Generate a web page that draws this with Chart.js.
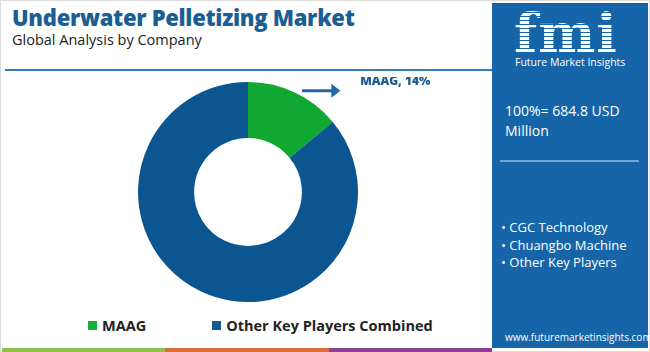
<!DOCTYPE html>
<html>
<head>
<meta charset="utf-8">
<script src="https://cdn.jsdelivr.net/npm/chart.js@4"></script>
<style>
  html, body { margin: 0; padding: 0; }
  body { width: 650px; height: 352px; position: relative; overflow: hidden; background: #fff; font-family: "Open Sans", sans-serif; }
  .frame { position: absolute; left: 0; top: 0; width: 648px; height: 350px; border: 1px solid #dcdcdc; }
  .title { position: absolute; left: 12px; top: 2px; font-size: 22px; font-weight: 800; color: #1a5e94; letter-spacing: -0.3px; white-space: nowrap; }
  .subtitle { position: absolute; left: 12px; top: 30px; font-size: 14.5px; color: #222; white-space: nowrap; }
  .rule { position: absolute; left: 5px; top: 69px; width: 487px; height: 2px; background: #2f7cbd; }
  .chartbox { position: absolute; left: 5px; top: 77px; width: 486px; height: 230px; }
  .legend { position: absolute; top: 316px; left: 88px; display: flex; font-weight: 700; font-size: 14.5px; color: #222; white-space: nowrap; }
  .legend .item { display: flex; align-items: center; margin-right: 66px; }
  .legend .sw { width: 9px; height: 9px; margin-right: 5px; }
  .strip { position: absolute; left: 2px; top: 348px; height: 4px; width: 490px; display: flex; }
  .strip div { flex: 1; }
  .panel { position: absolute; left: 492px; top: 3px; width: 156px; height: 345px; background: #1565a8; color: #fff; }
  .logo { position: absolute; left: 22px; top: -2px; font-family: "DejaVu Serif", serif; font-weight: 700; font-size: 54px; letter-spacing: 1px;
          background: repeating-linear-gradient(180deg, #fff 0 3px, #1565a8 3px 4px); -webkit-background-clip: text; background-clip: text; color: transparent; }
  .logo-sub { position: absolute; left: 23px; top: 52px; font-size: 10.5px; white-space: nowrap; }
  .total { position: absolute; left: 13px; top: 98px; font-size: 14px; line-height: 20px; }
  .sep { position: absolute; left: 8px; top: 157px; width: 139px; height: 2px; background: #6ea8da; }
  .bullets { position: absolute; left: 9px; top: 216px; font-size: 13px; line-height: 17.5px; white-space: nowrap; }
  .url { position: absolute; left: 13px; top: 327px; font-size: 10px; white-space: nowrap; }
</style>
</head>
<body>
<div class="frame"></div>
<div class="title">Underwater Pelletizing Market</div>
<div class="subtitle">Global Analysis by Company</div>
<div class="rule"></div>
<div class="chartbox"><canvas id="donut"></canvas></div>
<div class="legend" id="legend"></div>
<div class="strip"><div style="background:#8dc04f"></div><div style="background:#e06c3a"></div><div style="background:#8e3f94"></div></div>
<div class="panel">
  <div class="logo">fmi</div>
  <div class="logo-sub">Future Market Insights</div>
  <div class="total">100%= 684.8 USD<br>Million</div>
  <div class="sep"></div>
  <div class="bullets" id="bullets"></div>
  <div class="url">www.futuremarketinsights.com</div>
</div>
<script>
const companies = ['MAAG', 'Other Key Players Combined'];
const shares = [14, 86];
const colors = ['#10a832', '#0b5590'];
const legendColors = ['#15b03a', '#0f5a96'];
const keyPlayers = ['CGC Technology', 'Chuangbo Machine', 'Other Key Players'];

// legend built from the arrays
const legend = document.getElementById('legend');
companies.forEach((name, i) => {
    const item = document.createElement('div');
    item.className = 'item';
    item.innerHTML = `<span class="sw" style="background:${legendColors[i]}"></span>${name}`;
    legend.appendChild(item);
});
document.getElementById('bullets').innerHTML = keyPlayers.map(p => '• ' + p).join('<br>');

// arrow + label pointing at the first slice
const calloutPlugin = {
    id: 'callout',
    afterDatasetsDraw(chart) {
        const arc = chart.getDatasetMeta(0).data[0];
        const ctx = chart.ctx;
        const R = arc.outerRadius;
        const y = arc.y - R * 0.92;
        const x1 = arc.x + R * 0.49;
        const x2 = arc.x + R * 0.84;
        ctx.save();
        ctx.strokeStyle = '#2068a6';
        ctx.fillStyle = '#2068a6';
        ctx.lineWidth = 3;
        ctx.beginPath();
        ctx.moveTo(x1, y);
        ctx.lineTo(x2 - 6, y);
        ctx.stroke();
        ctx.beginPath();
        ctx.moveTo(x2, y);
        ctx.lineTo(x2 - 9, y - 7);
        ctx.lineTo(x2 - 9, y + 7);
        ctx.closePath();
        ctx.fill();
        ctx.fillStyle = '#1d5a8e';
        ctx.font = '800 12px "Open Sans"';
        ctx.textBaseline = 'middle';
        ctx.fillText(companies[0] + ', ' + shares[0] + '%', arc.x + R * 1.02, arc.y - R * 1.0);
        ctx.restore();
    }
};

new Chart(document.getElementById('donut').getContext('2d'), {
    type: 'doughnut',
    data: {
        labels: companies,
        datasets: [{
            data: shares,
            backgroundColor: colors,
            borderWidth: 0
        }]
    },
    options: {
        responsive: true,
        maintainAspectRatio: false,
        animation: false,
        cutout: '49%',
        layout: { padding: { top: 5, bottom: 5 } },
        plugins: {
            legend: { display: false },
            tooltip: { enabled: false }
        }
    },
    plugins: [calloutPlugin]
});
</script>
</body>
</html>
